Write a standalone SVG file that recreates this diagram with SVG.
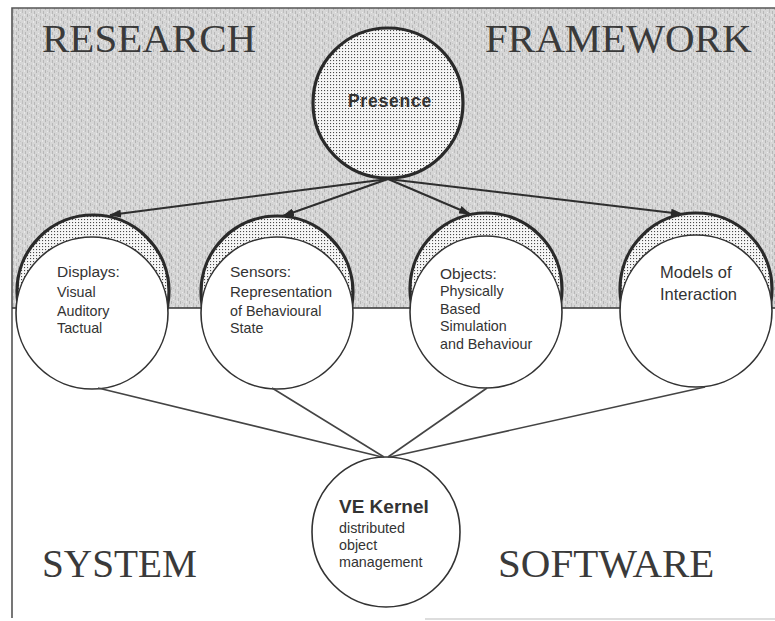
<svg xmlns="http://www.w3.org/2000/svg" width="775" height="621" viewBox="0 0 775 621">
  <style>
    .title { font-family: "Liberation Serif", "Times New Roman", serif; font-size: 41px; fill: #3a3a3a; }
    .head { font-family: "Liberation Sans", Arial, sans-serif; font-size: 15.5px; fill: #333; }
    .body { font-family: "Liberation Sans", Arial, sans-serif; font-size: 14.3px; fill: #333; }
    .big { font-family: "Liberation Sans", Arial, sans-serif; font-size: 16.5px; fill: #333; }
    .bold { font-family: "Liberation Sans", Arial, sans-serif; font-weight: bold; fill: #333; }
    .shade { fill: url(#dots); stroke: #2a2a2a; stroke-width: 3.2; }
    .white { fill: #fff; stroke: #333; stroke-width: 1.6; }
    .conn { fill: none; stroke: #2e2e2e; stroke-width: 2; }
    .kconn { fill: none; stroke: #444; stroke-width: 1.6; }
  </style>
  <defs>
    <pattern id="dots" width="3" height="3" patternUnits="userSpaceOnUse">
      <rect width="3" height="3" fill="#f6f6f6"/>
      <rect width="1.1" height="1.1" fill="#4a4a4a"/>
    </pattern>
    <pattern id="noise" width="9" height="7" patternUnits="userSpaceOnUse">
      <rect width="9" height="7" fill="#d6d6d6"/>
      <rect x="0" y="0" width="1" height="3" fill="#b4b4b4"/>
      <rect x="4" y="2" width="1" height="4" fill="#bdbdbd"/>
      <rect x="7" y="4" width="1" height="3" fill="#b8b8b8"/>
      <rect x="2" y="5" width="1" height="1" fill="#ececec"/>
      <rect x="6" y="0" width="1" height="2" fill="#e8e8e8"/>
      <rect x="2" y="1" width="1" height="1" fill="#c4c4c4"/>
    </pattern>
    <marker id="arrow" viewBox="0 0 12 8" refX="11" refY="4" markerWidth="12" markerHeight="8" markerUnits="userSpaceOnUse" orient="auto">
      <path d="M0,0 L12,4 L0,8 Z" fill="#2a2a2a"/>
    </marker>
  </defs>

  <rect width="775" height="621" fill="#fff"/>

  <g id="background">
    <rect x="12" y="8" width="763" height="300" fill="url(#noise)"/>
    <path d="M775,8 H12 V618" fill="none" stroke="#555" stroke-width="1.6"/>
    <line x1="12" y1="308" x2="775" y2="308" stroke="#333" stroke-width="1.6"/>
    <line x1="425" y1="619" x2="775" y2="619" stroke="#bbb" stroke-width="1.2"/>
  </g>

  <g id="titles">
    <text class="title" x="42" y="52">RESEARCH</text>
    <text class="title" x="485" y="52">FRAMEWORK</text>
    <text class="title" x="42" y="577" textLength="155" lengthAdjust="spacingAndGlyphs">SYSTEM</text>
    <text class="title" x="498" y="577">SOFTWARE</text>
  </g>

  <g id="presence">
    <circle class="shade" cx="388" cy="103" r="75"/>
    <text class="bold" x="390" y="107" font-size="17.5" text-anchor="middle" letter-spacing="0.8">Presence</text>
  </g>

  <g id="displays">
    <circle class="shade" cx="93" cy="291" r="76"/>
    <circle class="white" cx="92" cy="313" r="76"/>
    <text class="head" x="57" y="277">Displays:</text>
    <text class="body" x="57" y="297">Visual</text>
    <text class="body" x="57" y="316">Auditory</text>
    <text class="body" x="57" y="333">Tactual</text>
  </g>

  <g id="sensors">
    <circle class="shade" cx="277" cy="292" r="76"/>
    <circle class="white" cx="277" cy="313" r="76"/>
    <text class="head" x="230" y="277">Sensors:</text>
    <text class="body" x="230" y="297" textLength="102" lengthAdjust="spacingAndGlyphs">Representation</text>
    <text class="body" x="230" y="316">of Behavioural</text>
    <text class="body" x="230" y="333">State</text>
  </g>

  <g id="objects">
    <circle class="shade" cx="486" cy="289" r="76"/>
    <circle class="white" cx="486" cy="312" r="76"/>
    <text class="head" x="440" y="279">Objects:</text>
    <text class="body" x="440" y="296">Physically</text>
    <text class="body" x="440" y="314">Based</text>
    <text class="body" x="440" y="331">Simulation</text>
    <text class="body" x="440" y="349">and Behaviour</text>
  </g>

  <g id="models">
    <circle class="shade" cx="696" cy="289" r="76"/>
    <circle class="white" cx="696" cy="311" r="76"/>
    <text class="big" x="660" y="278">Models of</text>
    <text class="big" x="660" y="300">Interaction</text>
  </g>

  <g id="kernel">
    <ellipse class="white" cx="386" cy="532" rx="74" ry="75"/>
    <text class="bold" x="339" y="513" font-size="19">VE Kernel</text>
    <text class="body" x="339" y="533" font-size="15">distributed</text>
    <text class="body" x="339" y="550" font-size="15">object</text>
    <text class="body" x="339" y="567" font-size="15">management</text>
  </g>

  <g id="connectors">
    <line class="conn" x1="388" y1="179" x2="110" y2="215" marker-end="url(#arrow)"/>
    <line class="conn" x1="388" y1="179" x2="283" y2="216" marker-end="url(#arrow)"/>
    <line class="conn" x1="388" y1="179" x2="470" y2="214" marker-end="url(#arrow)"/>
    <line class="conn" x1="388" y1="179" x2="682" y2="214" marker-end="url(#arrow)"/>
    <line class="kconn" x1="98" y1="388" x2="382" y2="457"/>
    <line class="kconn" x1="272" y1="388" x2="384" y2="457"/>
    <line class="kconn" x1="487" y1="388" x2="388" y2="457"/>
    <line class="kconn" x1="705" y1="387" x2="390" y2="457"/>
  </g>
</svg>
